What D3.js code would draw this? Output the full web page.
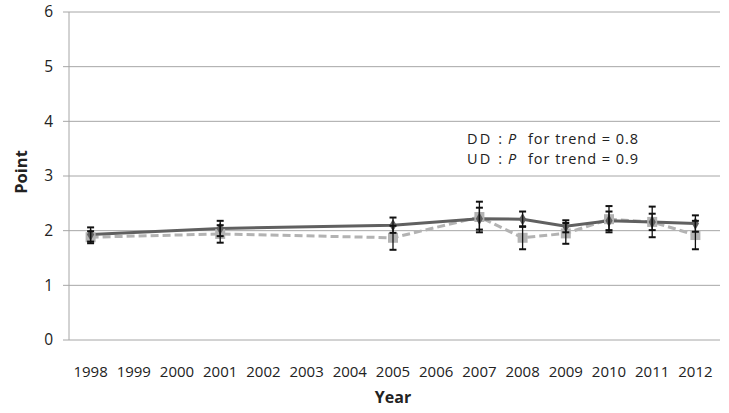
<!DOCTYPE html>
<html>
<head>
<meta charset="utf-8">
<script src="https://cdn.jsdelivr.net/npm/d3@7"></script>
<style>
  body { margin: 0; background: #fff; }
  svg { display: block; }
  text { font-family: "Open Sans", "Noto Sans", sans-serif; fill: #222; white-space: pre; }
</style>
</head>
<body>
<svg id="chart" width="729" height="413"></svg>
<script>
const categories = ["1998","1999","2000","2001","2002","2003","2004","2005","2006","2007","2008","2009","2010","2011","2012"];
const dataYears = ["1998","2001","2005","2007","2008","2009","2010","2011","2012"];
const ddValues = [1.93, 2.04, 2.10, 2.22, 2.21, 2.08, 2.18, 2.16, 2.13];
const ddErrors = [0.13, 0.14, 0.14, 0.20, 0.14, 0.11, 0.17, 0.15, 0.15];
const udValues = [1.88, 1.94, 1.87, 2.25, 1.87, 1.95, 2.21, 2.16, 1.92];
const udErrors = [0.11, 0.16, 0.22, 0.28, 0.21, 0.19, 0.24, 0.28, 0.26];
const yTicks = [0, 1, 2, 3, 4, 5, 6];
const annotations = [
  { name: "DD", text: "for trend = 0.8" },
  { name: "UD", text: "for trend = 0.9" }
];

const svg = d3.select("#chart");
const margin = { left: 69, right: 12, top: 12, bottom: 73 };
const W = 729, H = 413;
const x = d3.scaleBand().domain(categories).range([margin.left, W - margin.right]);
const y = d3.scaleLinear().domain([0, 6]).range([H - margin.bottom, margin.top]);
const cx = d => x(d) + x.bandwidth() / 2;

// gridlines
svg.append("g").selectAll("line").data(yTicks).join("line")
  .attr("x1", margin.left - 6).attr("x2", W - margin.right + 3)
  .attr("y1", d => y(d)).attr("y2", d => y(d))
  .attr("stroke", "#a6a6a6").attr("stroke-width", 1);

// y axis line
svg.append("line")
  .attr("x1", margin.left).attr("x2", margin.left)
  .attr("y1", y(6)).attr("y2", y(0))
  .attr("stroke", "#a6a6a6").attr("stroke-width", 1);

// y tick labels
svg.append("g").selectAll("text").data(yTicks).join("text")
  .attr("x", 53).attr("y", d => y(d)).attr("dy", "0.35em")
  .attr("text-anchor", "end").attr("font-size", 15.5).text(d => d);

// x tick labels
svg.append("g").selectAll("text").data(categories).join("text")
  .attr("x", d => cx(d)).attr("y", 372).attr("dy", "0.35em")
  .attr("text-anchor", "middle").attr("font-size", 15).text(d => d);

// axis titles
svg.append("text").attr("x", (margin.left + W - margin.right) / 2).attr("y", 397).attr("dy", "0.35em")
  .attr("text-anchor", "middle").attr("font-size", 16).attr("font-weight", "bold").text("Year");
svg.append("text").attr("transform", "translate(21,172) rotate(-90)").attr("dy", "0.35em")
  .attr("text-anchor", "middle").attr("font-size", 16.5).attr("font-weight", "bold").text("Point");

const dd = dataYears.map((yr, i) => ({ yr, v: ddValues[i], e: ddErrors[i] }));
const ud = dataYears.map((yr, i) => ({ yr, v: udValues[i], e: udErrors[i] }));
const line = d3.line().x(d => cx(d.yr)).y(d => y(d.v));

// UD line (light dashed)
svg.append("path").datum(ud).attr("d", line)
  .attr("fill", "none").attr("stroke", "#b3b3b3").attr("stroke-width", 3)
  .attr("stroke-dasharray", "8,4");
// DD line (dark solid)
svg.append("path").datum(dd).attr("d", line)
  .attr("fill", "none").attr("stroke", "#606060").attr("stroke-width", 3);

// markers
svg.append("g").selectAll("rect").data(ud).join("rect")
  .attr("x", d => cx(d.yr) - 5).attr("y", d => y(d.v) - 5)
  .attr("width", 10).attr("height", 10).attr("fill", "#b3b3b3");
svg.append("g").selectAll("path").data(dd).join("path")
  .attr("d", d3.symbol().type(d3.symbolDiamond).size(45))
  .attr("transform", d => `translate(${cx(d.yr)},${y(d.v)})`)
  .attr("fill", "#606060");

// error bars
function errBars(data) {
  const g = svg.append("g").attr("stroke", "#111").attr("stroke-width", 1.3);
  data.forEach(d => {
    const xc = cx(d.yr), y1 = y(d.v + d.e), y2 = y(d.v - d.e);
    g.append("line").attr("x1", xc).attr("x2", xc).attr("y1", y1).attr("y2", y2);
    g.append("line").attr("x1", xc - 3.5).attr("x2", xc + 3.5).attr("y1", y1).attr("y2", y1).attr("stroke-width", 2);
    g.append("line").attr("x1", xc - 3.5).attr("x2", xc + 3.5).attr("y1", y2).attr("y2", y2).attr("stroke-width", 2);
  });
}
errBars(ud);
errBars(dd);

// annotations (separate pieces, no overlap)
const ann = svg.append("g");
annotations.forEach((a, i) => {
  const yy = 139 + i * 20;
  ann.append("text").attr("x", 467).attr("y", yy).attr("dy", "0.35em")
    .attr("font-size", 14.5).attr("textLength", 35).attr("lengthAdjust", "spacing")
    .text(a.name + " :");
  ann.append("text").attr("x", 508).attr("y", yy).attr("dy", "0.35em")
    .attr("font-size", 14.5).attr("font-style", "italic").text("P");
  ann.append("text").attr("x", 528).attr("y", yy).attr("dy", "0.35em")
    .attr("font-size", 14.5).attr("textLength", 110).attr("lengthAdjust", "spacing")
    .text(a.text);
});
</script>
</body>
</html>
